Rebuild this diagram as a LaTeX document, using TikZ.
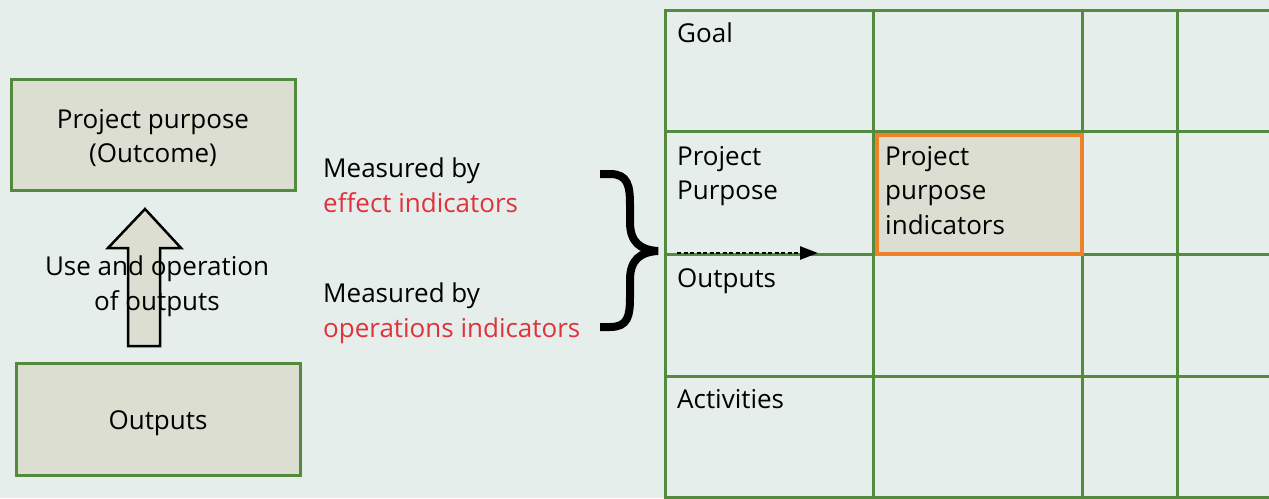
\documentclass[tikz,border=0pt]{standalone}
\usepackage{fontspec}
\setmainfont{Open Sans}
\usetikzlibrary{arrows.meta}
\definecolor{bg}{HTML}{E6EEEC}
\definecolor{boxfill}{HTML}{DBDED0}
\definecolor{grn}{HTML}{548A3E}
\definecolor{org}{HTML}{EE8229}
\definecolor{redtxt}{HTML}{E0323C}
\tikzset{
  every node/.style={font=\fontsize{26}{34.5}\selectfont, inner sep=0pt},
  greenbox/.style={draw=grn, line width=3pt, fill=boxfill, rectangle},
  gridline/.style={draw=grn, line width=3pt},
  celltext/.style={anchor=north west, align=left},
  blockarrow/.style={draw=black, line width=2.5pt, fill=boxfill, line join=miter},
  bracepath/.style={draw=black, line width=8pt, line cap=butt},
  dotarrow/.style={draw=black, line width=2.5pt, dash pattern=on 4pt off 2.5pt, -{Triangle[length=18pt,width=13pt]}},
}
\begin{document}
\begin{tikzpicture}[x=1pt,y=-1pt]
\useasboundingbox (0,0) rectangle (1269,498);
\fill[bg] (0,0) rectangle (1269,498);
\begin{scope}
\clip (0,0) rectangle (1269,498);
% grid
\foreach \xx in {665,873,1082,1177} \draw[gridline] (\xx,9) -- (\xx,500);
\foreach \yy in {10,131,254,376,497} \draw[gridline] (664,\yy) -- (1275,\yy);
\end{scope}
% orange highlighted cell
\node[draw=org, line width=4pt, fill=boxfill, minimum width=205pt, minimum height=119pt, anchor=north west] (ppi) at (875,133) {};
% grid texts
\node[celltext] (goal) at (677,23) {Goal};
\node[celltext] (ppurp) at (677,146) {Project\\Purpose};
\node[celltext] (outp) at (677,268) {Outputs};
\node[celltext] (act) at (677,389) {Activities};
\node[celltext] (ppit) at (885,146) {Project\\purpose\\indicators};
% left boxes
\node[greenbox, minimum width=284pt, minimum height=111pt, align=center] (pp) at (153,134.5) {};
\node[align=center] (pptext) at (153,138) {Project purpose\\(Outcome)};
\node[greenbox, minimum width=284pt, minimum height=112pt] (out) at (158,419) {};
\node (outtext) at (158,423) {Outputs};
% block arrow
\draw[blockarrow] (128,346) -- (128,248) -- (108,248) -- (145,209) -- (181,248) -- (160,248) -- (160,346) -- cycle;
\node[align=center] (use) at (157,286) {Use and operation\\of outputs};
% measured by texts
\node[celltext] (m1) at (323,158) {Measured by\\\textcolor{redtxt}{effect indicators}};
\node[celltext] (m2) at (323,283) {Measured by\\\textcolor{redtxt}{operations indicators}};
% brace
\draw[bracepath] (600,174) -- (610,174) .. controls (628,174) and (630,186) .. (630,205) -- (630,222) .. controls (630,242) and (640,250) .. (658,251) .. controls (640,252) and (630,260) .. (630,280) -- (630,297) .. controls (630,316) and (628,327) .. (610,327) -- (600,327);
% dotted arrow
\coordinate (ds) at (677,253);
\coordinate (de) at (818,253);
\draw[dotarrow] (ds) -- (de);
\end{tikzpicture}
\end{document}
